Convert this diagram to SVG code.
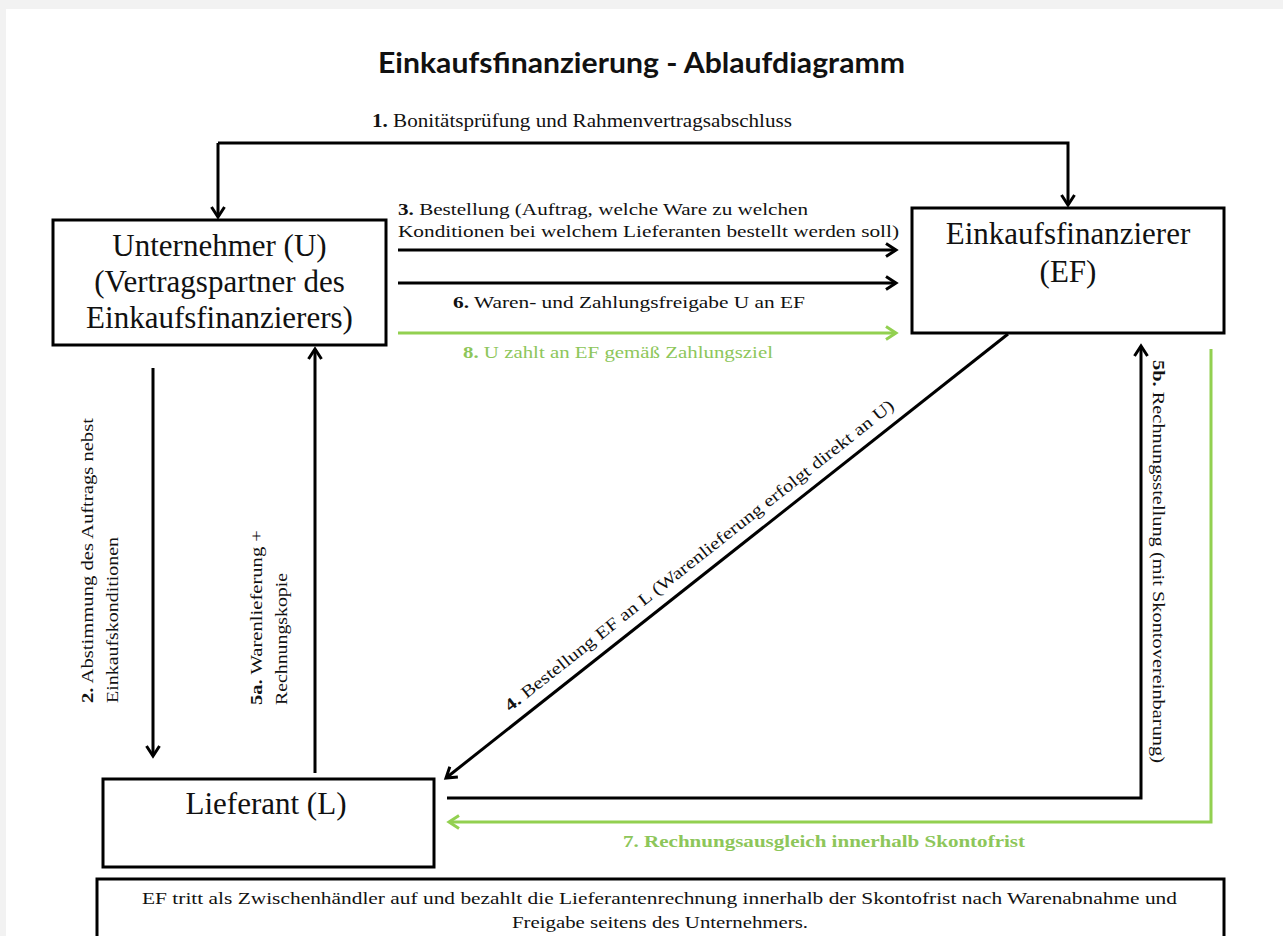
<svg xmlns="http://www.w3.org/2000/svg" width="1283" height="936" viewBox="0 0 1283 936">
<style>
.box{fill:#fff;stroke:#000;stroke-width:3}
.ln{fill:none;stroke:#000;stroke-width:3}
.gn{fill:none;stroke:#92d050;stroke-width:3}
.nt{font-family:"Liberation Serif","Times New Roman",serif;font-size:31px;fill:#111;text-anchor:middle}
.lb{font-family:"Liberation Serif","Times New Roman",serif;font-size:17px;fill:#111}
.glb{font-family:"Liberation Serif","Times New Roman",serif;font-size:17px;fill:#8dc65a}
.b{font-weight:bold}
.title{font-family:Lato,"Open Sans",sans-serif;font-weight:bold;font-size:28px;fill:#111}
</style>
<defs>
<marker id="ah" markerUnits="userSpaceOnUse" markerWidth="16" markerHeight="16" refX="12" refY="8" orient="auto">
<path d="M2,1.5 L12,8 L2,14.5" fill="none" stroke="#000" stroke-width="3"/>
</marker>
<marker id="ahg" markerUnits="userSpaceOnUse" markerWidth="16" markerHeight="16" refX="12" refY="8" orient="auto">
<path d="M2,1.5 L12,8 L2,14.5" fill="none" stroke="#92d050" stroke-width="3"/>
</marker>
</defs>
<rect x="0" y="0" width="1283" height="936" fill="#f2f2f2"/>
<rect x="6" y="9" width="1277" height="927" fill="#fff"/>
<text class="title" x="378" y="73" textLength="527" lengthAdjust="spacingAndGlyphs">Einkaufsfinanzierung - Ablaufdiagramm</text>

<g id="connectors">
<path id="c1a" class="ln" d="M218,143 H1068 V205" marker-end="url(#ah)"/>
<path id="c1b" class="ln" d="M218,143 V217" marker-end="url(#ah)"/>
<path id="c3" class="ln" d="M398,250 H896" marker-end="url(#ah)"/>
<path id="c6" class="ln" d="M398,283 H896" marker-end="url(#ah)"/>
<path id="c8" class="gn" d="M398,333 H896" marker-end="url(#ahg)"/>
<path id="c2" class="ln" d="M153,368 V756" marker-end="url(#ah)"/>
<path id="c5a" class="ln" d="M315,773 V349" marker-end="url(#ah)"/>
<path id="c4" class="ln" d="M1008,334 L446,778" marker-end="url(#ah)"/>
<path id="c5b" class="ln" d="M447,798 H1141 V346" marker-end="url(#ah)"/>
<path id="c7" class="gn" d="M1211,349 V822 H449" marker-end="url(#ahg)"/>

<text class="lb" x="372" y="127" textLength="420" lengthAdjust="spacingAndGlyphs" style="font-size:18px"><tspan class="b">1.</tspan> Bonitätsprüfung  und  Rahmenvertragsabschluss</text>
<text class="lb" x="398" y="215" textLength="410" lengthAdjust="spacingAndGlyphs"><tspan class="b">3.</tspan> Bestellung  (Auftrag,  welche  Ware zu welchen</text>
<text class="lb" x="398" y="237" textLength="501" lengthAdjust="spacingAndGlyphs">Konditionen  bei welchem  Lieferanten  bestellt  werden  soll)</text>
<text class="lb" x="453" y="308" textLength="352" lengthAdjust="spacingAndGlyphs"><tspan class="b">6.</tspan> Waren- und Zahlungsfreigabe  U an EF</text>
<text class="glb" x="463" y="358" textLength="310" lengthAdjust="spacingAndGlyphs"><tspan class="b">8.</tspan> U zahlt  an EF gemäß Zahlungsziel</text>
<text class="glb b" x="623" y="847" textLength="402" lengthAdjust="spacingAndGlyphs">7. Rechnungsausgleich innerhalb  Skontofrist</text>
<g transform="translate(93,703) rotate(-90)">
<text class="lb" x="0" y="0" textLength="285" lengthAdjust="spacingAndGlyphs"><tspan class="b">2.</tspan> Abstimmung  des Auftrags  nebst</text>
<text class="lb" x="0" y="25" textLength="166" lengthAdjust="spacingAndGlyphs">Einkaufskonditionen</text>
</g>
<g transform="translate(262,705) rotate(-90)">
<text class="lb" x="0" y="0" textLength="175" lengthAdjust="spacingAndGlyphs"><tspan class="b">5a.</tspan> Warenlieferung  +</text>
<text class="lb" x="0" y="25" textLength="132" lengthAdjust="spacingAndGlyphs">Rechnungskopie</text>
</g>
<g transform="translate(1153,360) rotate(90)">
<text class="lb" x="0" y="0" textLength="403" lengthAdjust="spacingAndGlyphs"><tspan class="b">5b.</tspan> Rechnungsstellung  (mit  Skontovereinbarung)</text>
</g>
<g transform="translate(510,712) rotate(-38.3)">
<text class="lb" x="0" y="0" textLength="491" lengthAdjust="spacingAndGlyphs"><tspan class="b">4.</tspan> Bestellung  EF an L (Warenlieferung  erfolgt  direkt  an U)</text>
</g>
</g>

<g id="node-u">
<rect class="box" x="53" y="220" width="333" height="125"/>
<text class="nt" x="219.5" y="256">Unternehmer (U)</text>
<text class="nt" x="219.5" y="292">(Vertragspartner des</text>
<text class="nt" x="219.5" y="328">Einkaufsfinanzierers)</text>
</g>

<g id="node-ef">
<rect class="box" x="912" y="208" width="312" height="125"/>
<text class="nt" x="1068" y="244">Einkaufsfinanzierer</text>
<text class="nt" x="1068" y="282">(EF)</text>
</g>

<g id="node-l">
<rect class="box" x="103" y="779" width="331" height="88"/>
<text class="nt" x="266" y="814">Lieferant (L)</text>
</g>

<g id="note">
<rect class="box" x="97" y="879" width="1127" height="80"/>
<text class="lb" x="142" y="904" textLength="1035" lengthAdjust="spacingAndGlyphs">EF tritt  als Zwischenhändler  auf und bezahlt  die Lieferantenrechnung  innerhalb  der Skontofrist  nach  Warenabnahme  und</text>
<text class="lb" x="512" y="928" textLength="296" lengthAdjust="spacingAndGlyphs">Freigabe  seitens  des Unternehmers.</text>
</g>
</svg>
